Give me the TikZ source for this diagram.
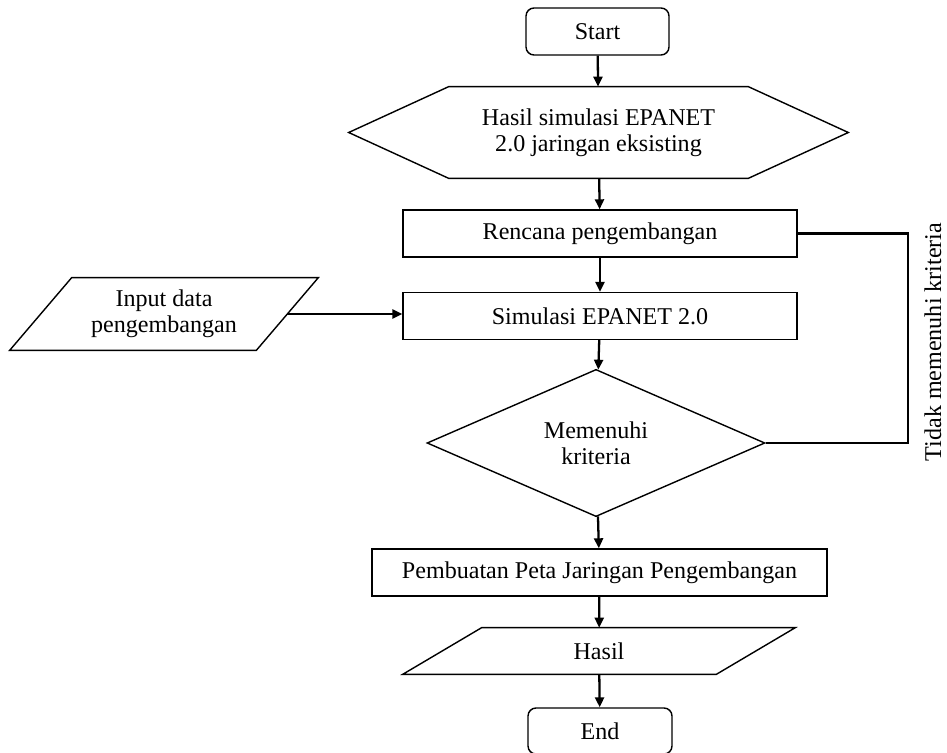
\documentclass[tikz,border=0pt]{standalone}
\usepackage{fontspec}
\setmainfont{Liberation Serif}
\usetikzlibrary{arrows.meta,shapes.geometric}

\begin{document}
\begin{tikzpicture}[x=0.02cm, y=-0.02cm, font=\fontsize{13.7}{14.8}\selectfont,
	shape line/.style={line width=0.8pt},
	proses/.style={shape line, draw, rectangle, minimum height=0.94cm, inner sep=0pt},
	terminal/.style={proses, rounded corners=0.16cm},
	flow/.style={line width=1.3pt, -{Triangle[length=0.2cm, width=0.18cm]}}]
				
				\useasboundingbox (0,0) rectangle (947,753);
				
				% Terminals and process boxes
				\node[terminal, minimum width=2.86cm] (start) at (597.5,31.5) {Start};
				\node[proses, minimum width=7.88cm] (rencana) at (600,233.5) {Rencana pengembangan};
				\node[proses, minimum width=7.88cm] (simulasi) at (600,316) {Simulasi EPANET 2.0};
				\node[proses, minimum width=9.1cm] (peta) at (599.5,572.5) {Pembuatan Peta Jaringan Pengembangan};
				\node[terminal, minimum width=2.88cm, minimum height=0.92cm] (selesai) at (600,731) {End};
				
				% Hexagon
				\node[minimum width=9.98cm, minimum height=1.82cm, inner sep=0pt, align=center] (hasil) at (598.5,132.5)
				{Hasil simulasi EPANET\\2.0 jaringan eksisting};
				\draw[shape line] (hasil.west) -- ([xshift=2cm]hasil.north west) -- ([xshift=-2cm]hasil.north east)
				-- (hasil.east) -- ([xshift=-2cm]hasil.south east) -- ([xshift=2cm]hasil.south west) -- cycle;
				
				% Input data
				\node[minimum width=6.16cm, minimum height=1.44cm, inner sep=0pt, align=center] (input) at (164,314)
				{Input data\\pengembangan};
				\draw[shape line] ([xshift=1.24cm]input.north west) -- (input.north east)
				-- ([xshift=-1.24cm]input.south east) -- (input.south west) -- cycle;
				\coordinate (input-r) at ([xshift=-0.62cm]input.east);
				
				% Decision
				\node[shape line, draw, diamond, minimum width=6.76cm, minimum height=2.8cm, inner sep=0pt, align=center]
				(kriteria) at (596,443) {Memenuhi\\kriteria};
				
				% Output
				\node[minimum width=7.84cm, minimum height=0.92cm, inner sep=0pt] (output) at (599,651) {Hasil};
				\draw[shape line] ([xshift=1.58cm]output.north west) -- (output.north east)
				-- ([xshift=-1.58cm]output.south east) -- (output.south west) -- cycle;
				
				% Arrows
				\draw[flow] (start) -- (hasil);
				\draw[flow] (hasil) -- (rencana);
				\draw[flow] (rencana) -- (simulasi);
				\draw[flow] (input-r) -- (input-r -| simulasi.west);
				\draw[flow] (simulasi) -- (kriteria);
				\draw[flow] (kriteria) -- (peta);
				\draw[flow] (peta) -- (output);
				\draw[flow] (output) -- (selesai);
				
				% Loop back
				\coordinate (balik) at (908,233.5);
				\draw[line width=1.3pt] (kriteria.east) -| (balik) -- (rencana.east);
				\node[rotate=90, inner sep=1pt] (tidak) at (933,342) {Tidak memenuhi kriteria};
				
\end{tikzpicture}
\end{document}
